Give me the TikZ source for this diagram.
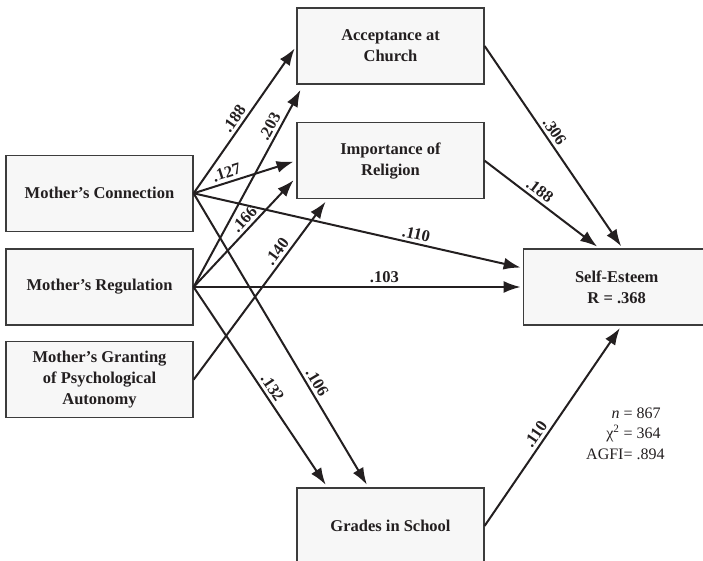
\documentclass[tikz,border=0pt]{standalone}
\usepackage{fontspec}
\setmainfont{Liberation Serif}
\usetikzlibrary{positioning,arrows.meta,calc}
\definecolor{BoxFill}{HTML}{F7F7F7}
\definecolor{BoxLine}{HTML}{3C3C3C}
\definecolor{Ink}{HTML}{231F20}

\begin{document}
\begin{tikzpicture}[
  x=1pt, y=-1pt,
  node distance=16pt,
  box/.style={
    draw=BoxLine, fill=BoxFill, line width=1.2pt,
    align=center,
    font=\fontsize{16.5}{21}\selectfont\bfseries, text=Ink,
    minimum width=187pt,
    minimum height=76pt,
    inner sep=2pt
  },
  arr/.style={-{Latex[length=17pt,width=12pt]}, line width=2pt, draw=Ink, shorten >=3pt},
  wt/.style={font=\fontsize{16.5}{19}\selectfont\bfseries, text=Ink, sloped, above, inner sep=3pt}
]
\useasboundingbox (0,0) rectangle (703,561);
\clip (0,0) rectangle (703,561);

% mother variables
\node[box] (conn) at (99.5,193.3) {Mother's Connection};
\node[box, below=16.5pt of conn] (reg) {Mother's Regulation};
\node[box, below=15.5pt of reg] (gran) {Mother's Granting\\of Psychological\\Autonomy};

% mediators and outcome
\node[box] (acc) at (390.5,46) {Acceptance at\\Church};
\node[box, below=37.5pt of acc] (imp) {Importance of\\Religion};
\node[box, below=288pt of imp] (grades) {Grades in School};
\node[box, right=329pt of reg] (se) {Self-Esteem\\R = .368};

\draw[arr] (conn.east) -- (acc.west) node[wt, pos=0.47] {.188};
\draw[arr, shorten >=6pt] (reg.east) -- ($(acc.south west)+(7,0)$) node[wt, pos=0.77] {.203};
\draw[arr] (conn.east) -- (imp.west) node[wt, pos=0.35] {.127};
\draw[arr, shorten >=4pt] (reg.east) -- ($(imp.west)+(0,16.5)$) node[wt, pos=0.56] {.166};
\draw[arr] (gran.east) -- ($(imp.south west)+(31,0)$) node[wt, pos=0.68] {.140};
\draw[arr, shorten >=2pt] (conn.east) -- ($(se.west)+(0,-19)$) node[wt, pos=0.67] {.110};
\draw[arr, shorten >=2pt] (reg.east) -- (se.west) node[wt, pos=0.58] {.103};
\draw[arr] (reg.east) -- ($(grades.north west)+(31,0)$) node[wt, pos=0.53] {.132};
\draw[arr] (conn.east) -- ($(grades.north west)+(72,0)$) node[wt, pos=0.66] {.106};
\draw[arr, shorten >=2.5pt] (acc.east) -- ($(se.north west)+(100,0)$) node[wt, pos=0.45] {.306};
\draw[arr] (imp.east) -- ($(se.north west)+(77,0)$) node[wt, pos=0.43] {.188};
\draw[arr] (grades.east) -- ($(se.south west)+(99,0)$) node[wt, pos=0.43] {.110};

% fit statistics
\node[anchor=west, inner sep=0pt, font=\fontsize{16}{20.5}\selectfont, text=Ink] (fitstats) at (586,434.5)
  {\begin{tabular}{@{}r@{}l@{}}\textit{n}\kern4pt &= 867\\ χ\textsuperscript{2}\kern4pt &= 364\\ AGFI&= .894\end{tabular}};
\end{tikzpicture}
\end{document}
